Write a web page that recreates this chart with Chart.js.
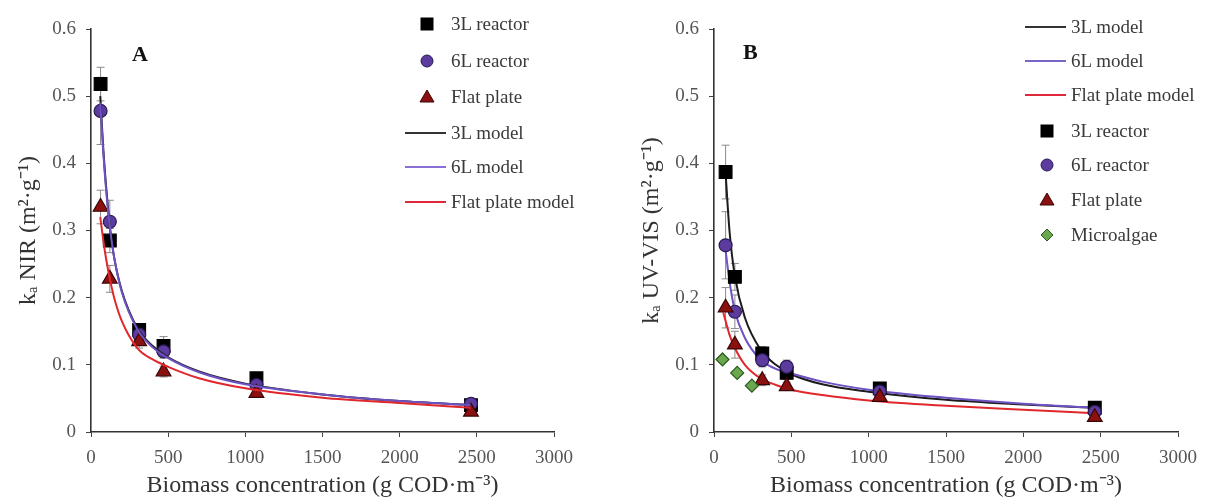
<!DOCTYPE html>
<html>
<head>
<meta charset="utf-8">
<script src="https://cdn.jsdelivr.net/npm/chart.js@4.4.1/dist/chart.umd.min.js"></script>
<style>
  html, body { margin: 0; padding: 0; background: #fff; }
  #page { position: relative; width: 1210px; height: 504px; overflow: hidden; font-family: 'Liberation Serif', 'Times New Roman', serif; }
  .panel { position: absolute; top: 0; height: 504px; }
  .lg-row { position: absolute; height: 22px; line-height: 22px; font-size: 19px; color: #3a3a3a; white-space: nowrap; }
  .lg-row svg { position: absolute; top: 0; }
  .letter { position: absolute; font-weight: bold; font-size: 22px; color: #111; }
</style>
</head>
<body>
<div id="page">
  <div class="panel" style="left:0;width:600px"><canvas id="chart-a"></canvas></div>
  <div class="panel" style="left:600px;width:610px"><canvas id="chart-b"></canvas></div>
  <div class="letter" style="left:132px;top:41px">A</div>
  <div class="letter" style="left:743px;top:39px">B</div>
  <div id="legend-a"></div>
  <div id="legend-b"></div>
</div>
<script>
// ---- panel A : NIR ----
var A_X = [62, 122, 312, 470, 1072, 2462];
var A_3L = [0.518, 0.285, 0.152, 0.128, 0.080, 0.040];
var A_3L_ERR = [0.025, 0.018, 0.008, 0.014, 0.006, 0.004];
var A_6L = [0.478, 0.313, 0.145, 0.120, 0.070, 0.042];
var A_6L_ERR = [0.050, 0.032, 0.010, 0.010, 0.005, 0.004];
var A_FP = [0.335, 0.228, 0.135, 0.090, 0.058, 0.030];
var A_FP_ERR = [0.025, 0.020, 0.010, 0.008, 0.005, 0.005];

var A_MODEL_X = [60, 80, 100, 125, 150, 200, 300, 400, 500, 700, 1000, 1500, 2000, 2460];
var A_3L_MODEL = [0.500, 0.420, 0.360, 0.300, 0.260, 0.210, 0.155, 0.128, 0.111, 0.090, 0.072, 0.056, 0.046, 0.040];
var A_6L_MODEL = [0.490, 0.415, 0.355, 0.300, 0.260, 0.208, 0.153, 0.126, 0.110, 0.089, 0.071, 0.056, 0.046, 0.040];
var A_FP_MODEL = [0.320, 0.285, 0.255, 0.225, 0.200, 0.165, 0.125, 0.108, 0.097, 0.080, 0.065, 0.051, 0.043, 0.036];

// ---- panel B : UV-VIS ----
var B_X = [75, 135, 312, 470, 1072, 2462];
var B_3L = [0.387, 0.231, 0.117, 0.088, 0.065, 0.036];
var B_3L_ERR = [0.040, 0.020, 0.010, 0.010, 0.005, 0.004];
var B_6L = [0.278, 0.179, 0.107, 0.097, 0.060, 0.030];
var B_6L_ERR = [0.050, 0.025, 0.010, 0.010, 0.005, 0.004];
var B_FP = [0.185, 0.130, 0.077, 0.068, 0.052, 0.022];
var B_FP_ERR = [0.030, 0.020, 0.008, 0.006, 0.004, 0.004];
var B_ALGAE_X = [55, 150, 245];
var B_ALGAE = [0.108, 0.088, 0.069];

var B_3L_MODEL_X = [75, 100, 135, 200, 300, 400, 500, 700, 1000, 1500, 2000, 2460];
var B_3L_MODEL = [0.385, 0.300, 0.232, 0.170, 0.123, 0.100, 0.086, 0.071, 0.060, 0.048, 0.041, 0.036];
var B_6L_MODEL_X = [70, 100, 135, 200, 300, 400, 500, 700, 1000, 1500, 2000, 2460];
var B_6L_MODEL = [0.280, 0.225, 0.180, 0.140, 0.108, 0.094, 0.087, 0.075, 0.063, 0.051, 0.042, 0.036];
var B_FP_MODEL_X = [60, 100, 135, 200, 300, 400, 500, 700, 1000, 1500, 2000, 2460];
var B_FP_MODEL = [0.178, 0.145, 0.125, 0.100, 0.080, 0.070, 0.063, 0.055, 0.047, 0.039, 0.033, 0.028];

var X_TICKS = [0, 500, 1000, 1500, 2000, 2500, 3000];
var Y_TICKS = [0, 0.1, 0.2, 0.3, 0.4, 0.5, 0.6];

var FONT = "'Liberation Serif', 'Times New Roman', serif";
var C = {
  r3L: { fill: '#000000', edge: '#000000' },
  r6L: { fill: '#5b3c9e', edge: '#2a1a55' },
  fp:  { fill: '#8b1010', edge: '#3a0505' },
  alg: { fill: '#6aa84f', edge: '#2e5a1e' },
  m3L: '#1c1c1c',
  m6L: '#6e52c4',
  mFP: '#e0282c',
};

function pts(xs, ys) {
  return xs.map(function(x, i) { return { x: x, y: ys[i] }; });
}

function markerSet(label, xs, ys, errs, col, style, r) {
  return {
    label: label, data: pts(xs, ys), errors: errs,
    showLine: false, pointStyle: style, pointRadius: r,
    backgroundColor: col.fill, borderColor: col.edge, pointBorderWidth: 1.2,
  };
}

function modelSet(label, xs, ys, color) {
  return {
    label: label, data: pts(xs, ys), showLine: true,
    borderColor: color, backgroundColor: color, borderWidth: 2,
    pointRadius: 0, cubicInterpolationMode: 'monotone',
  };
}

// error bars drawn through the y scale, beneath the markers
var errorBars = {
  id: 'errorBars',
  beforeDatasetsDraw: function(chart) {
    var ctx = chart.ctx, ys = chart.scales.y;
    ctx.save();
    ctx.strokeStyle = '#8a8a8a';
    ctx.lineWidth = 1;
    chart.data.datasets.forEach(function(ds, i) {
      if (!ds.errors) return;
      var meta = chart.getDatasetMeta(i);
      meta.data.forEach(function(p, j) {
        var e = ds.errors[j];
        if (!e) return;
        var v = ds.data[j].y;
        var top = ys.getPixelForValue(v + e), bot = ys.getPixelForValue(v - e);
        ctx.beginPath();
        ctx.moveTo(p.x, top); ctx.lineTo(p.x, bot);
        ctx.moveTo(p.x - 4, top); ctx.lineTo(p.x + 4, top);
        ctx.moveTo(p.x - 4, bot); ctx.lineTo(p.x + 4, bot);
        ctx.stroke();
      });
    });
    ctx.restore();
  },
};

function makeOptions(yTitle, yWidth, yTitlePad, rightPad) {
  return {
    responsive: true,
    maintainAspectRatio: false,
    animation: false,
    layout: { padding: { top: 29, right: rightPad, left: 0, bottom: 0 } },
    plugins: { legend: { display: false }, tooltip: { enabled: false } },
    scales: {
      x: {
        type: 'linear', min: 0, max: 3000,
        afterBuildTicks: function(s) { s.ticks = X_TICKS.map(function(v) { return { value: v }; }); },
        afterFit: function(s) { s.height = 72; },
        ticks: { color: '#555', font: { family: FONT, size: 19 }, padding: 10, callback: function(v) { return String(v); } },
        grid: { display: true, drawOnChartArea: false, drawTicks: true, tickLength: 5, color: '#444' },
        border: { display: true, color: '#333', width: 1.6 },
        title: { display: true, text: 'Biomass concentration (g COD·m⁻³)', color: '#333', font: { family: FONT, size: 24 }, padding: { top: 0, bottom: 4 } },
      },
      y: {
        type: 'linear', min: 0, max: 0.6,
        afterBuildTicks: function(s) { s.ticks = Y_TICKS.map(function(v) { return { value: v }; }); },
        afterFit: function(s) { s.width = yWidth; },
        ticks: { color: '#555', font: { family: FONT, size: 19 }, padding: 10, callback: function(v) { return v === 0 ? '0' : v.toFixed(1); } },
        grid: { display: true, drawOnChartArea: false, drawTicks: true, tickLength: 5, color: '#444' },
        border: { display: true, color: '#333', width: 1.6 },
        title: { display: true, text: yTitle, color: '#333', font: { family: FONT, size: 24 }, padding: { top: yTitlePad, bottom: 0 } },
      },
    },
  };
}

function legendRow(parent, x, y, item) {
  var row = document.createElement('div');
  row.className = 'lg-row';
  row.style.left = (x - 46) + 'px';
  row.style.top = (y - 11) + 'px';
  row.style.paddingLeft = '46px';
  var svg = '<svg width="44" height="22" style="left:0">';
  if (item.line) {
    svg += '<line x1="0" y1="11" x2="41" y2="11" stroke="' + item.line + '" stroke-width="2"/>';
  } else {
    var cx = 22, cy = 11, f = item.fill, e = item.edge;
    if (item.shape === 'rect') svg += '<rect x="' + (cx - 6) + '" y="' + (cy - 6) + '" width="12" height="12" fill="' + f + '" stroke="' + e + '"/>';
    if (item.shape === 'circle') svg += '<circle cx="' + cx + '" cy="' + cy + '" r="6" fill="' + f + '" stroke="' + e + '"/>';
    if (item.shape === 'triangle') svg += '<polygon points="' + cx + ',' + (cy - 7) + ' ' + (cx + 7) + ',' + (cy + 5) + ' ' + (cx - 7) + ',' + (cy + 5) + '" fill="' + f + '" stroke="' + e + '"/>';
    if (item.shape === 'diamond') svg += '<polygon points="' + cx + ',' + (cy - 6) + ' ' + (cx + 6) + ',' + cy + ' ' + cx + ',' + (cy + 6) + ' ' + (cx - 6) + ',' + cy + '" fill="' + f + '" stroke="' + e + '"/>';
  }
  svg += '</svg>';
  row.innerHTML = svg + item.label;
  parent.appendChild(row);
}

function buildLegend(id, x, ys, items) {
  var el = document.getElementById(id);
  items.forEach(function(it, i) { legendRow(el, x, ys[i], it); });
}

function init() {
  new Chart(document.getElementById('chart-a'), {
    type: 'scatter',
    data: {
      datasets: [
        modelSet('Flat plate model', A_MODEL_X, A_FP_MODEL, C.mFP),
        modelSet('6L model', A_MODEL_X, A_6L_MODEL, C.m6L),
        modelSet('3L model', A_MODEL_X, A_3L_MODEL, C.m3L),
        markerSet('Flat plate', A_X, A_FP, A_FP_ERR, C.fp, 'triangle', 8.5),
        markerSet('6L reactor', A_X, A_6L, A_6L_ERR, C.r6L, 'circle', 6.5),
        markerSet('3L reactor', A_X, A_3L, A_3L_ERR, C.r3L, 'rect', 9),
      ],
    },
    options: makeOptions('kₐ NIR (m²·g⁻¹)', 91, 14, 46),
    plugins: [errorBars],
  });

  new Chart(document.getElementById('chart-b'), {
    type: 'scatter',
    data: {
      datasets: [
        markerSet('Microalgae', B_ALGAE_X, B_ALGAE, null, C.alg, 'rectRot', 6.5),
        markerSet('Flat plate', B_X, B_FP, B_FP_ERR, C.fp, 'triangle', 8.5),
        markerSet('6L reactor', B_X, B_6L, B_6L_ERR, C.r6L, 'circle', 6.5),
        markerSet('3L reactor', B_X, B_3L, B_3L_ERR, C.r3L, 'rect', 9),
        modelSet('Flat plate model', B_FP_MODEL_X, B_FP_MODEL, C.mFP),
        modelSet('6L model', B_6L_MODEL_X, B_6L_MODEL, C.m6L),
        modelSet('3L model', B_3L_MODEL_X, B_3L_MODEL, C.m3L),
      ],
    },
    options: makeOptions('kₐ UV-VIS (m²·g⁻¹)', 114, 37, 32),
    plugins: [errorBars],
  });

  buildLegend('legend-a', 451, [24, 61, 97, 133, 167, 202], [
    { label: '3L reactor', shape: 'rect', fill: C.r3L.fill, edge: C.r3L.edge },
    { label: '6L reactor', shape: 'circle', fill: C.r6L.fill, edge: C.r6L.edge },
    { label: 'Flat plate', shape: 'triangle', fill: C.fp.fill, edge: C.fp.edge },
    { label: '3L model', line: '#333' },
    { label: '6L model', line: '#8a6fd6' },
    { label: 'Flat plate model', line: '#e0283c' },
  ]);

  buildLegend('legend-b', 1071, [27, 61, 95, 131, 165, 200, 235], [
    { label: '3L model', line: '#333' },
    { label: '6L model', line: '#7a64c4' },
    { label: 'Flat plate model', line: '#e0283c' },
    { label: '3L reactor', shape: 'rect', fill: C.r3L.fill, edge: C.r3L.edge },
    { label: '6L reactor', shape: 'circle', fill: C.r6L.fill, edge: C.r6L.edge },
    { label: 'Flat plate', shape: 'triangle', fill: C.fp.fill, edge: C.fp.edge },
    { label: 'Microalgae', shape: 'diamond', fill: C.alg.fill, edge: C.alg.edge },
  ]);
}

if (document.readyState === 'loading') {
  document.addEventListener('DOMContentLoaded', init);
} else {
  init();
}
</script>
</body>
</html>
